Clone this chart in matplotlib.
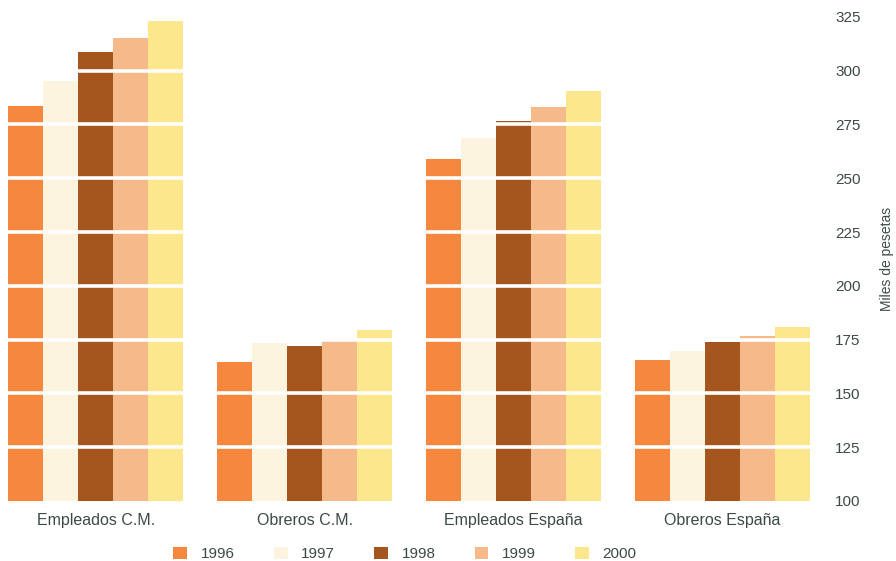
import matplotlib.pyplot as plt
import numpy as np

plt.rcParams['font.family'] = ['Liberation Sans', 'DejaVu Sans']

categories = ['Empleados C.M.', 'Obreros C.M.', 'Empleados España', 'Obreros España']
years = ['1996', '1997', '1998', '1999', '2000']
values = {
    '1996': [283.7, 164.4, 258.7, 165.3],
    '1997': [295.2, 173.3, 268.7, 169.6],
    '1998': [308.5, 171.8, 276.7, 173.8],
    '1999': [315.0, 174.9, 283.3, 176.9],
    '2000': [323.0, 179.6, 290.6, 181.0],
}
colors = ['#F5873F', '#FCF4DE', '#A5561F', '#F6B98A', '#FDE78C']
yticks = [100, 125, 150, 175, 200, 225, 250, 275, 300, 325]
text_col = '#3d4a42'

fig = plt.figure(figsize=(8.96, 5.61), dpi=100)
ax = fig.add_axes([0.009, 0.107, 0.895, 0.863])

x = np.arange(len(categories))
w = 0.168
for i, yr in enumerate(years):
    ax.bar(x + (i - 2) * w, np.array(values[yr]) - 100, bottom=100, width=w,
           color=colors[i], label=yr, zorder=2)

# white gridlines cut through the bars
for t in yticks[1:]:
    ax.axhline(t, color='white', lw=2.6, zorder=3)

ax.set_xlim(-2.5 * w, 3 + 2.5 * w)
ax.set_ylim(100, 325)
ax.set_yticks(yticks)
ax.yaxis.tick_right()
ax.yaxis.set_label_position('right')
ax.set_ylabel('Miles de pesetas', color=text_col, fontsize=10, labelpad=14)
ax.tick_params(axis='y', length=0, pad=18, labelsize=11, labelcolor=text_col)
ax.set_xticks(x)
ax.set_xticklabels(categories)
ax.tick_params(axis='x', length=0, pad=9, labelsize=11.5, labelcolor=text_col)
for s in ax.spines.values():
    s.set_visible(False)

fig.legend(loc='lower center', bbox_to_anchor=(0.452, -0.025), ncol=5, frameon=False,
           handlelength=0.9, handleheight=0.9, columnspacing=2.55, handletextpad=0.9,
           fontsize=11, labelcolor=text_col)

fig.savefig('out.png', dpi=100)
